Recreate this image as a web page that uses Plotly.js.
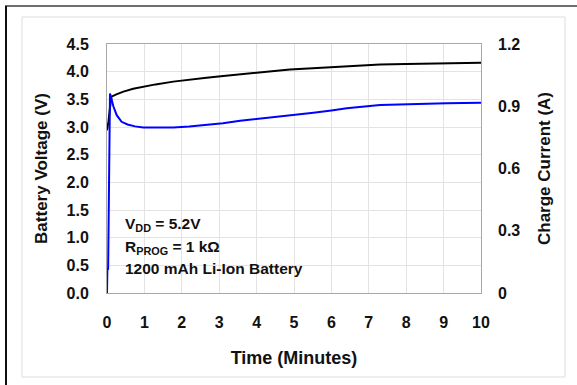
<!DOCTYPE html>
<html><head><meta charset="utf-8">
<script src="https://cdn.plot.ly/plotly-3.0.1.min.js"></script>
<style>html,body{margin:0;padding:0;background:#fff;}#c{width:577px;height:385px;}</style>
</head><body><div id="c"></div>
<script>
// Battery voltage (V) vs time (minutes)
const timeV = [0, 0.04, 0.08, 0.12, 0.25, 0.44, 0.7, 0.97, 1.3, 1.77, 2.2, 2.66, 3.11, 3.56, 4.0, 4.45, 4.89, 5.5, 5.96, 6.6, 7.3, 8.0, 8.64, 9.3, 10.0];
const voltage = [2.94, 3.1, 3.35, 3.55, 3.59, 3.64, 3.69, 3.73, 3.77, 3.82, 3.86, 3.89, 3.92, 3.95, 3.98, 4.01, 4.04, 4.06, 4.08, 4.11, 4.13, 4.14, 4.15, 4.15, 4.16];
// Charge current (A) vs time (minutes)
const timeI = [0, 0.005, 0.01, 0.03, 0.05, 0.08, 0.12, 0.17, 0.26, 0.39, 0.55, 0.75, 0.97, 1.3, 1.77, 2.2, 2.66, 3.1, 3.56, 4.0, 4.45, 4.89, 5.52, 6.0, 6.41, 7.3, 8.19, 9.08, 10.0];
const current = [0, 0.117, 0.117, 0.117, 0.6, 0.962, 0.935, 0.90, 0.857, 0.825, 0.812, 0.803, 0.798, 0.797, 0.798, 0.802, 0.809, 0.818, 0.83, 0.838, 0.846, 0.857, 0.869, 0.88, 0.89, 0.906, 0.911, 0.914, 0.917];
const leftTicks = [0, 0.5, 1, 1.5, 2, 2.5, 3, 3.5, 4, 4.5];
const leftLabels = ["0.0","0.5","1.0","1.5","2.0","2.5","3.0","3.5","4.0","4.5"];
const rightTicks = [0, 0.3, 0.6, 0.9, 1.2];
const rightLabels = ["0","0.3","0.6","0.9","1.2"];
const xTicks = [0,1,2,3,4,5,6,7,8,9,10];

const L = 107, R = 481, T = 44, B = 293;
const px = p => (p - L) / (R - L);
const py = p => (B - p) / (B - T);
const F = "Liberation Sans, Arial, sans-serif";
const INK = '#111111';

const traces = [
  {x: timeV, y: voltage, type: 'scatter', mode: 'lines', line: {color: '#000000', width: 2}, yaxis: 'y', hoverinfo: 'skip'},
  {x: timeI, y: current, type: 'scatter', mode: 'lines', line: {color: '#0000ff', width: 2}, yaxis: 'y2', hoverinfo: 'skip'}
];

const layout = {
  width: 577, height: 385,
  margin: {l: L, r: 577 - R, t: T, b: 385 - B},
  paper_bgcolor: '#ffffff', plot_bgcolor: '#ffffff',
  showlegend: false,
  font: {family: F, color: INK, size: 16},
  xaxis: {
    range: [0, 10], tickvals: xTicks, ticktext: xTicks.map(String),
    showgrid: true, gridcolor: '#e3e3e3', gridwidth: 1,
    showline: true, linecolor: '#a8a8a8', linewidth: 1, mirror: true,
    zeroline: false, ticks: '', ticklabelstandoff: 15,
    tickfont: {family: F, size: 16, color: INK, weight: 'bold'},
    title: {text: '<b>Time (Minutes)</b>', font: {family: F, size: 18, color: INK}, standoff: 21}
  },
  yaxis: {
    range: [0, 4.5], tickvals: leftTicks, ticktext: leftLabels,
    showgrid: true, gridcolor: '#e3e3e3', gridwidth: 1,
    showline: true, linecolor: '#a8a8a8', linewidth: 1, mirror: true,
    zeroline: false, ticks: '', ticklabelstandoff: 14,
    tickfont: {family: F, size: 16, color: INK, weight: 'bold'},
    title: {text: '<b>Battery Voltage (V)</b>', font: {family: F, size: 17, color: INK}, standoff: 14}
  },
  yaxis2: {
    range: [0, 1.2], tickvals: rightTicks, ticktext: rightLabels,
    overlaying: 'y', side: 'right', showgrid: false, zeroline: false,
    showline: false, ticks: '', ticklabelstandoff: 16,
    tickfont: {family: F, size: 16, color: INK, weight: 'bold'},
    title: {text: '<b>Charge Current (A)</b>', font: {family: F, size: 17, color: INK}, standoff: 18}
  },
  annotations: [
    {xref: 'paper', yref: 'paper', x: px(123), y: py(224), xanchor: 'left', yanchor: 'middle', showarrow: false,
     text: '<b>V<sub>DD</sub> = 5.2V</b>', font: {family: F, size: 15.5, color: INK}},
    {xref: 'paper', yref: 'paper', x: px(123), y: py(247), xanchor: 'left', yanchor: 'middle', showarrow: false,
     text: '<b>R<sub>PROG</sub> = 1 kΩ</b>', font: {family: F, size: 15.5, color: INK}},
    {xref: 'paper', yref: 'paper', x: px(123), y: py(268), xanchor: 'left', yanchor: 'middle', showarrow: false,
     text: '<b>1200 mAh Li-Ion Battery</b>', font: {family: F, size: 15.5, color: INK}}
  ],
  shapes: [
    {type: 'rect', xref: 'paper', yref: 'paper', x0: px(22), x1: px(565), y0: py(377), y1: py(17), line: {color: '#dddddd', width: 1}, layer: 'below'},
    {type: 'line', xref: 'paper', yref: 'paper', x0: px(5), x1: px(577), y0: py(6), y1: py(6), line: {color: '#6e6e6e', width: 2}},
    {type: 'line', xref: 'paper', yref: 'paper', x0: px(6), x1: px(6), y0: py(6), y1: py(386), line: {color: '#111111', width: 2}}
  ]
};

Plotly.newPlot('c', traces, layout, {staticPlot: true, displayModeBar: false});
</script>
</body></html>
